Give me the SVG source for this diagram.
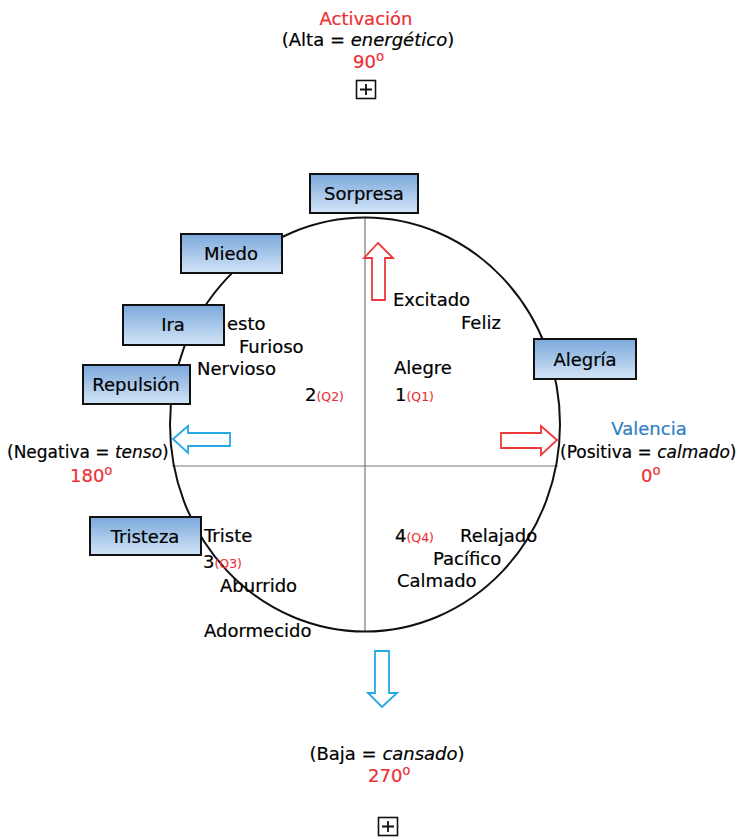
<svg xmlns="http://www.w3.org/2000/svg" width="742" height="838" viewBox="0 0 742 838">
<defs>
<linearGradient id="bg" x1="0" y1="0" x2="0" y2="1">
<stop offset="0" stop-color="#7ba8db"/>
<stop offset="1" stop-color="#d3e5f7"/>
</linearGradient>
</defs>
<style>
text{font-family:"DejaVu Sans",Verdana,sans-serif;font-size:18px;fill:#000;stroke:#000;stroke-width:0.2}
.r{fill:#ec2f36;stroke:#ec2f36}
.b{fill:#2f7fc4;stroke:#2f7fc4}
.q{font-size:12.5px;fill:#ec2f36;stroke:#ec2f36;stroke-width:0.1}
.s{font-size:20px}
.m{text-anchor:middle}
.sm{font-size:17px}
.box{fill:url(#bg);stroke:#111;stroke-width:2}
.ar{fill:#fff;stroke:#ec3a3a;stroke-width:1.8}
.ab{fill:#fff;stroke:#24a8e6;stroke-width:1.8}
.pb{fill:#fff;stroke:#111;stroke-width:1.6}
</style>
<rect width="742" height="838" fill="#fff"/>

<g id="axes">
<line x1="365" y1="218" x2="365" y2="631" stroke="#777" stroke-width="1.2"/>
<line x1="172" y1="466" x2="558" y2="466" stroke="#777" stroke-width="1.2"/>
<ellipse cx="365" cy="424.5" rx="195" ry="207" fill="none" stroke="#111" stroke-width="2"/>
</g>

<g id="connectors">
<polygon class="ar" points="378,243 393,258 385,258 385,300 372,300 372,258 364,258"/>
<polygon class="ab" points="173,439 188,426 188,433 230,433 230,446 188,446 188,453"/>
<polygon class="ar" points="557,440 541,426 541,433 501,433 501,448 541,448 541,455"/>
<polygon class="ab" points="382,707 397,693 389,693 389,651 375,651 375,693 368,693"/>
</g>

<g id="top-label">
<text class="r m" x="366" y="25">Activación</text>
<text class="m" x="368" y="46">(Alta = <tspan font-style="italic">energético</tspan>)</text>
<text class="r" x="353" y="68">90<tspan class="s">⁰</tspan></text>
<g id="plus-top"><rect class="pb" x="356.5" y="80.5" width="19" height="18"/><path d="M360 89.5h12M366 84v11" stroke="#111" stroke-width="1.8"/></g>
</g>

<g id="bottom-label">
<text class="m" x="387" y="760">(Baja = <tspan font-style="italic">cansado</tspan>)</text>
<text class="r" x="368" y="782">270<tspan class="s">⁰</tspan></text>
<g id="plus-bottom"><rect class="pb" x="378.5" y="817.5" width="19" height="18"/><path d="M382 826.5h12M388 821v11" stroke="#111" stroke-width="1.8"/></g>
</g>

<g id="left-label">
<text class="sm" x="7" y="458">(Negativa = <tspan font-style="italic">tenso</tspan>)</text>
<text class="r" x="70" y="482">180<tspan class="s">⁰</tspan></text>
</g>

<g id="right-label">
<text class="b m" x="649" y="435">Valencia</text>
<text class="sm" x="560" y="458">(Positiva = <tspan font-style="italic">calmado</tspan>)</text>
<text class="r" x="641" y="482">0<tspan class="s">⁰</tspan></text>
</g>

<g id="q1">
<text x="393" y="306">Excitado</text>
<text x="461" y="329">Feliz</text>
<text x="394" y="374">Alegre</text>
<text x="395" y="401">1<tspan class="q">(Q1)</tspan></text>
</g>
<g id="q2">
<text x="227" y="330">esto</text>
<text x="239" y="353">Furioso</text>
<text x="197" y="375">Nervioso</text>
<text x="305" y="401">2<tspan class="q">(Q2)</tspan></text>
</g>
<g id="q3">
<text x="204" y="542">Triste</text>
<text x="203" y="568">3<tspan class="q">(Q3)</tspan></text>
<text x="220" y="592">Aburrido</text>
<text x="204" y="637">Adormecido</text>
</g>
<g id="q4">
<text x="395" y="542">4<tspan class="q">(Q4)</tspan></text>
<text x="460" y="542">Relajado</text>
<text x="433" y="565">Pacífico</text>
<text x="397" y="587">Calmado</text>
</g>

<g id="sorpresa"><rect class="box" x="310" y="174" width="108" height="39"/><text class="m" x="364" y="200">Sorpresa</text></g>
<g id="miedo"><rect class="box" x="181" y="234" width="101" height="39"/><text class="m" x="231" y="260">Miedo</text></g>
<g id="ira"><rect class="box" x="123" y="305" width="101" height="40"/><text class="m" x="173" y="331">Ira</text></g>
<g id="repulsion"><rect class="box" x="83" y="365" width="107" height="39"/><text class="m" x="136" y="391">Repulsión</text></g>
<g id="alegria"><rect class="box" x="534" y="339" width="102" height="40"/><text class="m" x="585" y="366">Alegría</text></g>
<g id="tristeza"><rect class="box" x="90" y="517" width="111" height="38"/><text class="m" x="145" y="543">Tristeza</text></g>
</svg>
